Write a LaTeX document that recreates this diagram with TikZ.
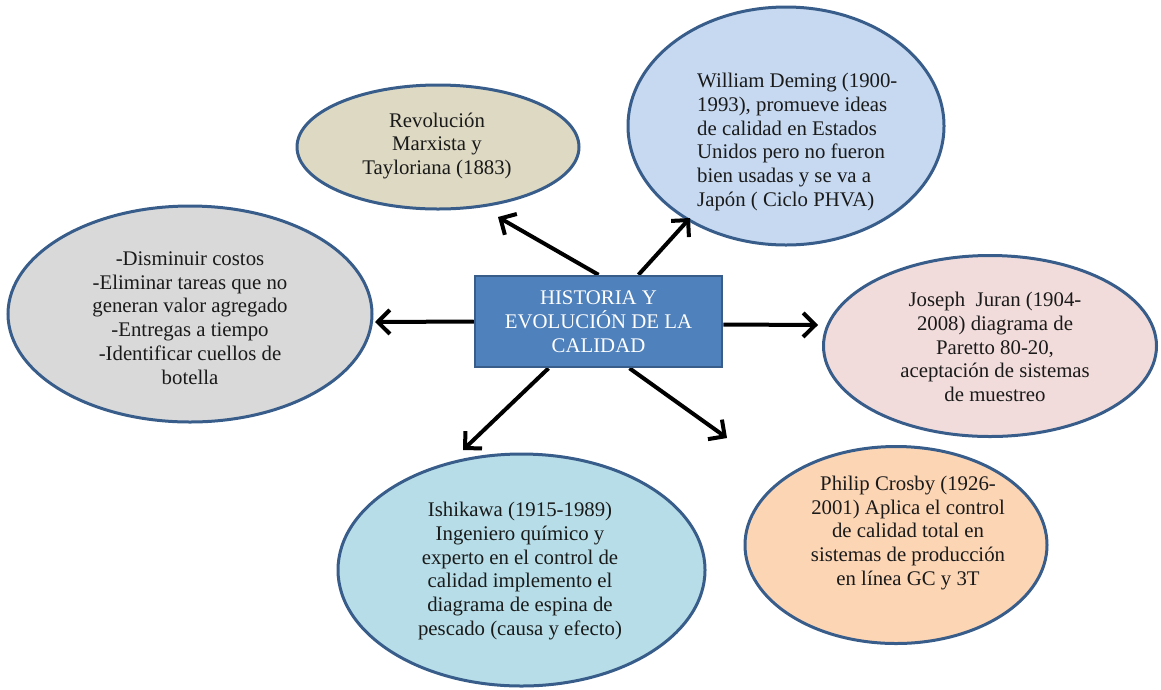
\documentclass[tikz,border=0pt]{standalone}
\usepackage{fontspec}
\setmainfont{Liberation Serif}
\usetikzlibrary{shapes.geometric,arrows.meta}
\definecolor{bordc}{HTML}{385D8A}
\definecolor{boxc}{HTML}{4F81BD}
\definecolor{tanc}{HTML}{DDD9C3}
\definecolor{bluec}{HTML}{C6D9F1}
\definecolor{grayc}{HTML}{D9D9D9}
\definecolor{pinkc}{HTML}{F2DCDB}
\definecolor{peachc}{HTML}{FCD5B5}
\definecolor{cyanc}{HTML}{B7DEE8}
\definecolor{txtc}{HTML}{1A1A1A}
\begin{document}
\begin{tikzpicture}[x=1pt,y=-1pt,
  bub/.style={ellipse, draw=bordc, line width=3pt, inner sep=0pt},
  txt/.style={align=center, font=\fontsize{20.8}{23.8}\selectfont, inner sep=0pt, text=txtc},
  arr/.style={line width=4pt, -{Straight Barb[length=12pt,width=24pt]}}]
\useasboundingbox (0,0) rectangle (1161,689);
% ellipses
\node[bub, fill=tanc, minimum width=282pt, minimum height=124pt] (e1) at (438,147) {};
\node[bub, fill=bluec, minimum width=316pt, minimum height=238pt] (e2) at (786,126) {};
\node[bub, fill=grayc, minimum width=364pt, minimum height=216pt] (e3) at (190,314) {};
\node[bub, fill=pinkc, minimum width=333pt, minimum height=181pt] (e4) at (990,346) {};
\node[bub, fill=peachc, minimum width=302pt, minimum height=197pt] (e5) at (896,545) {};
\node[bub, fill=cyanc, minimum width=367pt, minimum height=232pt] (e6) at (521.5,570) {};
% texts
\node[txt] (t1) at (437,146) {Revolución\\Marxista y\\Tayloriana (1883)};
\node[txt, align=left, anchor=west] (t2) at (697,142) {William Deming (1900-\\1993), promueve ideas\\de calidad en Estados\\Unidos pero no fueron\\bien usadas y se va a\\Japón ( Ciclo PHVA)};
\node[txt] (t3) at (190,318) {-Disminuir costos\\-Eliminar tareas que no\\generan valor agregado\\-Entregas a tiempo\\-Identificar cuellos de\\botella};
\node[txt] (t4) at (995,347) {Joseph\ \ Juran (1904-\\2008) diagrama de\\Paretto 80-20,\\aceptación de sistemas\\de muestreo};
\node[txt] (t5) at (908,533) {Philip Crosby (1926-\\2001) Aplica el control\\de calidad total en\\sistemas de producción\\en línea GC y 3T};
\node[txt] (t6) at (520,571) {Ishikawa (1915-1989)\\Ingeniero químico y\\experto en el control de\\calidad implemento el\\diagrama de espina de\\pescado (causa y efecto)};
% arrow tips
\coordinate (a1) at (498,217);
\coordinate (a2) at (690,218);
\coordinate (a3) at (375,322);
\coordinate (a4) at (818,325);
\coordinate (a5) at (463,450);
\coordinate (a6) at (727,438);
% center box (placed for anchors)
\node[txt, draw=bordc, fill=boxc, line width=2.5pt, minimum width=247pt, minimum height=91pt, text=white] (box) at (598.5,321.5) {HISTORIA Y\\EVOLUCIÓN DE LA\\CALIDAD};
% arrows
\draw[arr] (box.north) -- (a1);
\draw[arr] ([xshift=40pt]box.north) -- (a2);
\draw[arr] (box.west) -- (a3);
\draw[arr] ([yshift=-3pt]box.east) -- (a4);
\draw[arr] ([xshift=-50pt]box.south) -- (a5);
\draw[arr] ([xshift=31pt]box.south) -- (a6);
% redraw box on top
\node[txt, draw=bordc, fill=boxc, line width=2.5pt, minimum width=247pt, minimum height=91pt, text=white] (boxtop) at (box.center) {HISTORIA Y\\EVOLUCIÓN DE LA\\CALIDAD};
\end{tikzpicture}
\end{document}
